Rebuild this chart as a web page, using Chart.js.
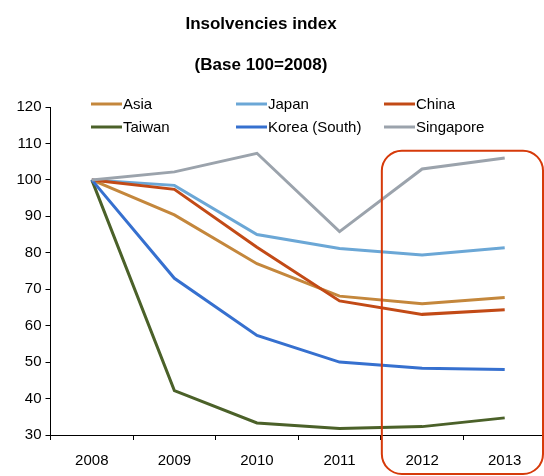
<!DOCTYPE html>
<html>
<head>
<meta charset="utf-8">
<script src="https://cdn.jsdelivr.net/npm/chart.js@4"></script>
<style>
  html, body { margin: 0; padding: 0; background: #fff; overflow: hidden; }
  canvas { display: block; }
</style>
</head>
<body>
<canvas id="chart" width="548" height="476"></canvas>
<script>
var years = ['2008', '2009', '2010', '2011', '2012', '2013'];
var seriesNames = ['Asia', 'Japan', 'China', 'Taiwan', 'Korea (South)', 'Singapore'];
var asia = [100, 90.4, 77, 68.1, 66, 67.7];
var japan = [100, 98.5, 85, 81.2, 79.4, 81.4];
var china = [100, 97.4, 81.5, 66.8, 63.1, 64.4];
var taiwan = [100, 42.2, 33.3, 31.8, 32.3, 34.7];
var korea = [100, 73, 57.3, 50, 48.3, 48];
var singapore = [100, 102.2, 107.3, 85.8, 103, 106];
var yTicks = [30, 40, 50, 60, 70, 80, 90, 100, 110, 120];
var colors = ['#C4873C', '#6BA7D6', '#C24A16', '#4B6129', '#3670CF', '#9BA3AC'];

var FONT = '"Liberation Sans", Arial, sans-serif';
var allSeries = [asia, japan, china, taiwan, korea, singapore];

var datasets = allSeries.map(function (vals, i) {
    return {
        label: seriesNames[i],
        data: vals,
        borderColor: colors[i],
        backgroundColor: colors[i],
        borderWidth: 3,
        pointRadius: 0,
        tension: 0,
        fill: false,
        order: 6 - i
    };
});

// titles, legend grid and the red highlight box
var extras = {
    id: 'extras',
    afterDraw: function (chart) {
        var ctx = chart.ctx;
        ctx.save();
        ctx.fillStyle = '#000';
        ctx.textAlign = 'center';
        ctx.textBaseline = 'alphabetic';
        ctx.font = 'bold 17px ' + FONT;
        ctx.fillText('Insolvencies index', 261, 29);
        ctx.fillText('(Base 100=2008)', 261, 70);

        var colX = [91, 236, 384];
        var rowY = [104, 127];
        ctx.font = '15px ' + FONT;
        ctx.textAlign = 'left';
        ctx.textBaseline = 'middle';
        chart.data.datasets.forEach(function (ds, i) {
            var x = colX[i % 3], y = rowY[Math.floor(i / 3)];
            ctx.strokeStyle = ds.borderColor;
            ctx.lineWidth = 3;
            ctx.beginPath();
            ctx.moveTo(x, y);
            ctx.lineTo(x + 31, y);
            ctx.stroke();
            ctx.fillStyle = '#000';
            ctx.fillText(ds.label, x + 32, y + 1);
        });

        var xs = chart.scales.x, ys = chart.scales.y;
        var left = (xs.getPixelForValue(3) + xs.getPixelForValue(4)) / 2 + 1;
        var right = chart.chartArea.right - 3;
        var top = ys.getPixelForValue(108);
        var bottom = chart.height - 2;
        ctx.strokeStyle = '#D63A0A';
        ctx.lineWidth = 2;
        ctx.beginPath();
        ctx.roundRect(left, top, right - left, bottom - top, 20);
        ctx.stroke();
        ctx.restore();
    }
};

var ctx = document.getElementById('chart').getContext('2d');
var chart = new Chart(ctx, {
    type: 'line',
    data: { labels: years, datasets: datasets },
    options: {
        responsive: false,
        animation: false,
        layout: { padding: { left: 0, right: 2, top: 107, bottom: 0 } },
        plugins: {
            legend: { display: false },
            title: { display: false },
            tooltip: { enabled: false }
        },
        scales: {
            x: {
                offset: true,
                grid: { display: true, offset: true, drawOnChartArea: false, drawTicks: true, tickLength: 5, color: '#000' },
                border: { display: true, color: '#000', width: 1 },
                ticks: { color: '#000', font: { family: FONT, size: 15 }, padding: 12, maxRotation: 0 },
                afterFit: function (scale) { scale.height = 41; }
            },
            y: {
                min: 30,
                max: 120,
                afterBuildTicks: function (scale) {
                    scale.ticks = yTicks.map(function (v) { return { value: v }; });
                },
                grid: { display: true, drawOnChartArea: false, drawTicks: true, tickLength: 5, color: '#000' },
                border: { display: true, color: '#000', width: 1 },
                ticks: { color: '#000', font: { family: FONT, size: 15 }, padding: 4 },
                afterFit: function (scale) { scale.width = 50.5; }
            }
        }
    },
    plugins: [extras]
});
</script>
</body>
</html>
